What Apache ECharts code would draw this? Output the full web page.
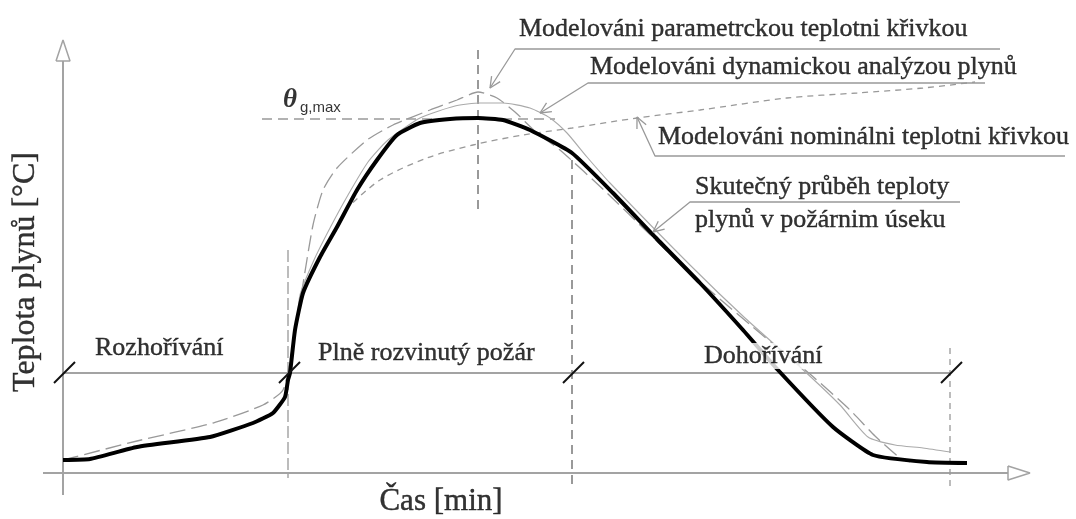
<!DOCTYPE html>
<html>
<head>
<meta charset="utf-8">
<script src="https://cdn.jsdelivr.net/npm/echarts@6/dist/echarts.min.js"></script>
<style>
  html, body { margin: 0; padding: 0; background: #fff; }
  #chart { width: 1076px; height: 519px; }
</style>
</head>
<body>
<div id="chart"></div>
<script>
// schematic units: t = time from the origin, T = gas temperature (both)
const actualTemp = [[0,13],[27,14],[74,26],[147,36],[190,50],[210,60],[222,76],[225,93],[227,100],[232,143],[240,180],[257,216],[274,246],[294,283],[314,313],[334,338],[357,350],[387,354],[415,355],[440,353],[467,343],[509,320],[550,280],[592,236],[637,190],[680,143],[715,103],[770,46],[810,18],[864,11],[904,10]];
const parametricCurve = [[0,13],[74,32],[150,50],[200,68],[220,83],[229,123],[239,183],[250,248],[260,283],[274,305],[304,333],[330,348],[367,363],[394,373],[415,381],[434,375],[452,361],[474,340],[497,323],[544,280],[627,200],[697,140],[747,99],[787,63],[812,37],[837,15],[847,11]];
const dynamicCurve = [[225,98],[233,143],[237,178],[251,213],[267,245],[285,278],[305,311],[325,333],[357,355],[392,367],[417,370],[440,370],[467,365],[487,355],[504,340],[524,316],[547,290],[627,208],[682,155],[737,106],[777,68],[805,36],[832,28],[860,25],[887,21]];
const nominalCurve = [[282,263],[317,293],[364,315],[410,328],[460,338],[509,345],[574,355],[637,363],[724,375],[794,380],[860,385],[912,391]];

const thetaMax = 354;            // level of θg,max
const phaseLevel = 100;          // level of the phase bar
const phaseBounds = [0, 225, 509, 887]; // start of fire, flashover, end of full fire, end of decay
const peakTime = 415;

const phaseNames = ['Rozhořívání', 'Plně rozvinutý požár', 'Dohořívání'];
const curveNames = [
  'Modelováni parametrckou teplotni křivkou',
  'Modelováni dynamickou analýzou plynů',
  'Modelováni nominálni teplotni křivkou',
  'Skutečný průběh teploty',
  'plynů v požárnim úseku'
];
const axisNames = ['Čas [min]', 'Teplota plynů [°C]'];

const GRAY = '#a3a3a3';
const SERIF = "'Liberation Serif', 'Times New Roman', serif";

function line(data, color, width, type, extra) {
  return Object.assign({
    type: 'line', data: data, symbol: 'none', silent: true,
    lineStyle: { color: color, width: width, type: type || 'solid' }
  }, extra || {});
}

// open arrow head, built from the last segment of a leader
function arrowHead(from, tip, len) {
  const dx = from[0] - tip[0], dy = from[1] - tip[1];
  const d = Math.hypot(dx, dy), ux = dx / d, uy = dy / d;
  const a = 25 * Math.PI / 180;
  const w1 = [tip[0] + len * (ux * Math.cos(a) - uy * Math.sin(a)), tip[1] + len * (ux * Math.sin(a) + uy * Math.cos(a))];
  const w2 = [tip[0] + len * (ux * Math.cos(a) + uy * Math.sin(a)), tip[1] + len * (-ux * Math.sin(a) + uy * Math.cos(a))];
  return [w1, tip, w2];
}

const leaders = [
  [[937,424],[452,424],[427,385]],
  [[922,390],[525,390],[477,360]],
  [[1002,317],[592,317],[574,356]],
  [[897,271],[627,271],[590,241]]
];

const slashes = phaseBounds.map(function (t) { return [[t - 9, phaseLevel - 10], [t + 12, phaseLevel + 11]]; });

function text(x, y, s, label) {
  return { value: [x, y], label: Object.assign({
    show: true, formatter: s, position: 'right', distance: 0,
    color: '#000', textBorderColor: '#000', textBorderWidth: 0.4,
    fontFamily: SERIF, fontSize: 26
  }, label || {}) };
}

const labels = [
  text(456, 444, curveNames[0]),
  text(527, 406, curveNames[1]),
  text(595, 336, curveNames[2]),
  text(632, 286, curveNames[3]),
  text(632, 253, curveNames[4]),
  text(32, 125, phaseNames[0]),
  text(255, 120, phaseNames[1]),
  text(639, 117, phaseNames[2], { backgroundColor: '#fff', padding: [0, 2] }),
  text(378, -29, axisNames[0], { position: 'inside', fontSize: 31 }),
  text(-37, 201, axisNames[1], { position: 'inside', fontSize: 32, rotate: 90 }),
  text(220, 373, 'θ', { fontStyle: 'italic', fontWeight: 'bold', fontSize: 27, textBorderWidth: 0 }),
  text(237, 365, 'g,max', { fontFamily: "'Liberation Sans', Arial, sans-serif", fontSize: 15, textBorderWidth: 0 })
];

const series = [
  // axes
  line([[-20, 0], [945, 0]], GRAY, 2),
  line([[945, 7], [967, 0], [945, -7], [945, 7]], GRAY, 1.5),
  line([[0, -22], [0, 412]], GRAY, 2),
  line([[-7, 412], [0, 433], [7, 412], [-7, 412]], GRAY, 1.5),
  // phase bar
  line([[phaseBounds[0], phaseLevel], [phaseBounds[3], phaseLevel]], GRAY, 2),
  // vertical guides
  line([[phaseBounds[1], 223], [phaseBounds[1], -5]], '#999', 1.3, [12, 4]),
  line([[peakTime, 423], [peakTime, 263]], '#999', 2, [9, 6]),
  line([[phaseBounds[2], 313], [phaseBounds[2], -12]], '#999', 2, [9, 6]),
  line([[phaseBounds[3], 125], [phaseBounds[3], -14]], '#999', 1.3, [6, 5]),
  // θg,max level
  line([[199, thetaMax], [492, thetaMax]], '#999', 1.5, [10, 6]),
  // model curves
  line(nominalCurve, '#999', 1.3, [6, 5], { smooth: 0.3 }),
  line(parametricCurve, '#999', 1.3, [16, 6], { smooth: 0.2 }),
  line(dynamicCurve, '#aaa', 1.1, 'solid', { smooth: 0.2 }),
  line(actualTemp, '#000', 4, 'solid', { smooth: 0.15, z: 3 })
];

slashes.forEach(function (s) { series.push(line(s, '#111', 2)); });
leaders.forEach(function (l) {
  series.push(line(l, '#999', 1.3));
  series.push(line(arrowHead(l[l.length - 2], l[l.length - 1], 12), '#999', 1.3));
});

// text sits on its own layer so the white box of "Dohořívání" hides the curve below it
series.push({
  type: 'scatter', silent: true, symbolSize: 0, z: 10, zlevel: 1, data: labels
});

const chart = echarts.init(document.getElementById('chart'), null, { renderer: 'canvas' });
chart.setOption({
  animation: false,
  backgroundColor: '#fff',
  grid: { left: 0, right: 0, top: 0, bottom: 0 },
  xAxis: { type: 'value', min: -63, max: 1013, show: false },
  yAxis: { type: 'value', min: -46, max: 473, show: false },
  series: series
});
</script>
</body>
</html>
